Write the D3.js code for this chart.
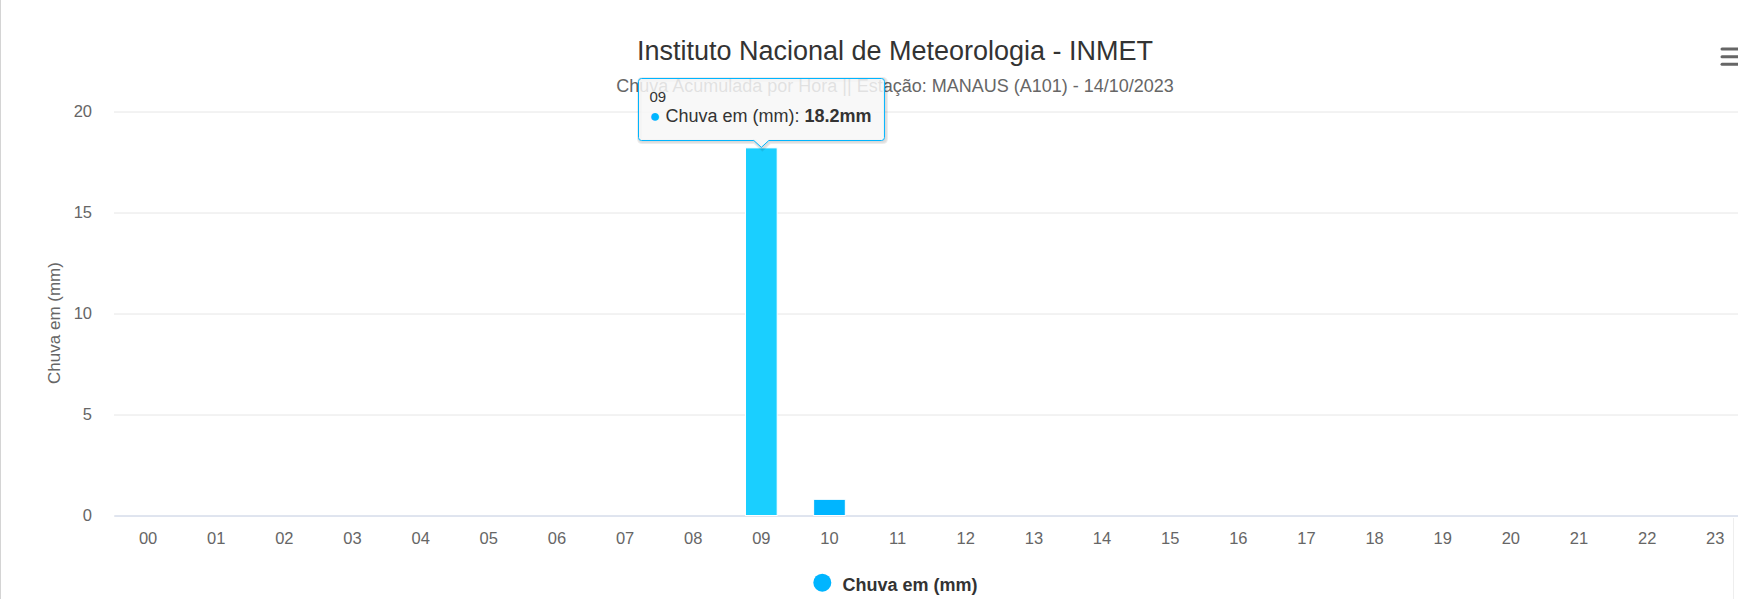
<!DOCTYPE html>
<html>
<head>
<meta charset="utf-8">
<script src="https://cdn.jsdelivr.net/npm/d3@7"></script>
<style>
  html, body { margin: 0; padding: 0; background: #fff; overflow: hidden; }
  svg { display: block; font-family: "Liberation Sans", Arial, Helvetica, sans-serif; }
</style>
</head>
<body>
<svg id="chart" width="1738" height="599"></svg>
<script>
// ---- data ----
const hours = ["00","01","02","03","04","05","06","07","08","09","10","11",
               "12","13","14","15","16","17","18","19","20","21","22","23"];
const rain = [0,0,0,0,0,0,0,0,0,18.2,0.8,0,0,0,0,0,0,0,0,0,0,0,0,0];
const yTicks = [0, 5, 10, 15, 20];
const titleText = "Instituto Nacional de Meteorologia - INMET";
const subtitleText = "Chuva Acumulada por Hora || Estação: MANAUS (A101) - 14/10/2023";
const seriesName = "Chuva em (mm)";
const yAxisTitle = "Chuva em (mm)";
const unit = "mm";
const hoveredIndex = 9;

// ---- layout ----
const W = 1738, H = 599;
const plotLeft = 114, step = 68.14;
const plotRight = plotLeft + step * hours.length;
const plotTop = 111.5, plotBottom = 515.5;
const baseColor = "#00b5ff", hoverColor = "#1acfff";

const svg = d3.select("#chart");

const x = d3.scaleBand().domain(hours).range([plotLeft, plotRight])
  .paddingInner(0.535).paddingOuter(0.2675);
const y = d3.scaleLinear().domain([0, 20]).range([plotBottom, plotTop]);

// outer borders
svg.append("line").attr("x1", 0.5).attr("x2", 0.5).attr("y1", 0).attr("y2", H)
  .attr("stroke", "#d4d4d4").attr("stroke-width", 1);
svg.append("line").attr("x1", 1733.5).attr("x2", 1733.5).attr("y1", 518).attr("y2", H)
  .attr("stroke", "#eeeeee").attr("stroke-width", 1);

// gridlines
const yAxisG = svg.append("g").attr("transform", `translate(${plotLeft},0)`)
  .call(d3.axisLeft(y).tickValues(yTicks).tickSize(-(plotRight - plotLeft)).tickPadding(22));
yAxisG.select(".domain").remove();
yAxisG.selectAll(".tick line").attr("stroke", "#e6e6e6").attr("stroke-width", 1);
yAxisG.selectAll(".tick text").attr("fill", "#666666").attr("font-size", "16.5px")
  .attr("font-family", "\"Liberation Sans\", Arial, sans-serif");

// x axis
const xAxisG = svg.append("g").attr("transform", `translate(0,${plotBottom})`)
  .call(d3.axisBottom(x).tickSize(0).tickPadding(17));
xAxisG.select(".domain").attr("stroke", "#ccd6eb").attr("stroke-width", 1);
xAxisG.selectAll(".tick text").attr("fill", "#666666").attr("font-size", "16.5px")
  .attr("font-family", "\"Liberation Sans\", Arial, sans-serif");

// bars
svg.append("g").selectAll("rect").data(rain).join("rect")
  .attr("x", (d, i) => x(hours[i]))
  .attr("width", x.bandwidth())
  .attr("y", d => y(d))
  .attr("height", d => y(0) - y(d))
  .attr("fill", (d, i) => i === hoveredIndex ? hoverColor : baseColor)
  .attr("stroke", "#ffffff")
  .attr("stroke-width", d => d > 0 ? 1 : 0);

// title & subtitle
svg.append("text").attr("x", 895).attr("y", 60).attr("text-anchor", "middle")
  .attr("font-size", "27px").attr("fill", "#333333").text(titleText);
svg.append("text").attr("x", 895).attr("y", 91.5).attr("text-anchor", "middle")
  .attr("font-size", "18px").attr("fill", "#666666").text(subtitleText);

// y axis title
svg.append("text")
  .attr("transform", `translate(60,323) rotate(-90)`)
  .attr("text-anchor", "middle").attr("font-size", "17px").attr("fill", "#666666")
  .text(yAxisTitle);

// menu icon
const menuY = [49, 56.7, 64.3];
svg.append("g").selectAll("line").data(menuY).join("line")
  .attr("x1", 1722).attr("x2", 1745).attr("y1", d => d).attr("y2", d => d)
  .attr("stroke", "#666666").attr("stroke-width", 3).attr("stroke-linecap", "round");

// legend
svg.append("circle").attr("cx", 822.3).attr("cy", 582.7).attr("r", 9).attr("fill", baseColor);
svg.append("text").attr("x", 842.5).attr("y", 591).attr("font-size", "18px")
  .attr("font-weight", "bold").attr("fill", "#333333").text(seriesName);

// tooltip
const cx = x(hours[hoveredIndex]) + x.bandwidth() / 2;
const tipY = y(rain[hoveredIndex]);
const tip = svg.append("g");
const boxTop = 78.5, boxBottom = 140.5;
const shadow = tip.append("g");
const path = tip.append("path");
const t1 = tip.append("text").attr("font-size", "15px").attr("fill", "#333333").text(hours[hoveredIndex]);
const t2 = tip.append("text").attr("font-size", "18px").attr("fill", "#333333");
t2.append("tspan").attr("fill", baseColor).attr("font-size", "18px").text("●");
t2.append("tspan").text(" " + seriesName + ": ");
t2.append("tspan").attr("font-weight", "bold").text(rain[hoveredIndex] + unit);
const textW = Math.max(t2.node().getComputedTextLength(), t1.node().getComputedTextLength());
const boxW = textW + 24;
const boxL = Math.round(cx - boxW / 2) + 0.5;
const boxR = boxL + boxW;
t1.attr("x", boxL + 11).attr("y", 101.5);
t2.attr("x", boxL + 11).attr("y", 122);
const r = 3;
function tipPath(dx, dy) {
  const L = boxL + dx, R = boxR + dx, T = boxTop + dy, B = boxBottom + dy, c = cx + dx;
  return `M${L + r},${T} L${R - r},${T} Q${R},${T} ${R},${T + r} L${R},${B - r} Q${R},${B} ${R - r},${B}
          L${c + 7.5},${B} L${c},${tipY - 0.5 + dy} L${c - 7.5},${B} L${L + r},${B} Q${L},${B} ${L},${B - r}
          L${L},${T + r} Q${L},${T} ${L + r},${T} Z`;
}
[[1, 1, 0.15, 5], [1, 1, 0.1, 3], [1, 1, 0.05, 1]].forEach(([dx, dy, op, sw]) => {
  shadow.append("path").attr("d", tipPath(dx, dy)).attr("fill", "none")
    .attr("stroke", "#000").attr("stroke-opacity", op * 0.5).attr("stroke-width", sw);
});
path.attr("d", tipPath(0, 0)).attr("fill", "rgba(247,247,247,0.85)")
  .attr("stroke", baseColor).attr("stroke-width", 1);
t1.raise(); t2.raise();
</script>
</body>
</html>
